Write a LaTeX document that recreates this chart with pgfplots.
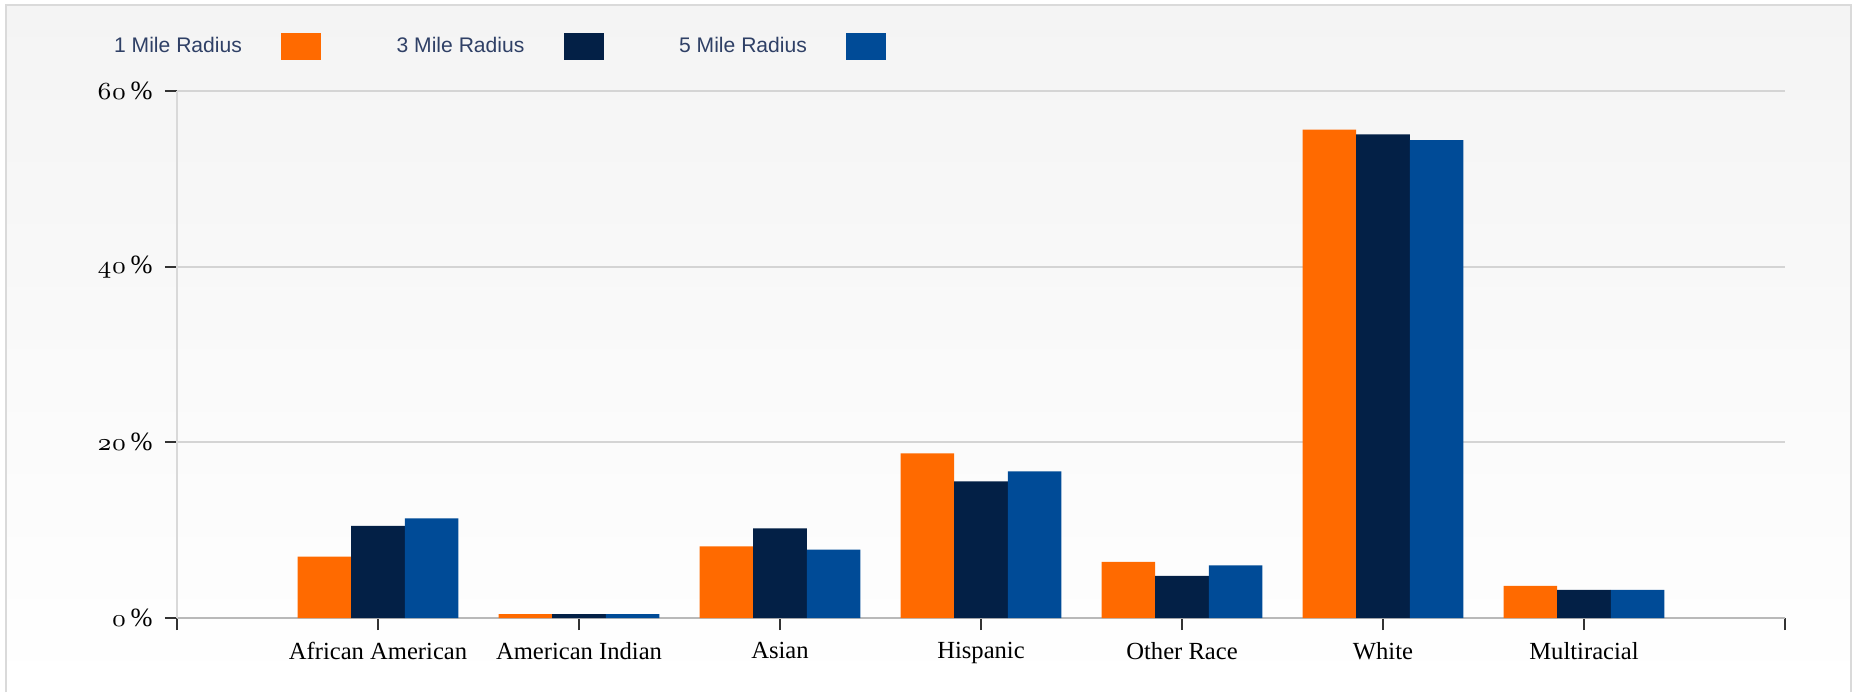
\documentclass[border=0pt]{standalone}
\usepackage{pgfplots}
\pgfplotsset{compat=1.18}
\usepackage{fontspec}
\setmainfont{Liberation Serif}
\newfontfamily\legfont{Liberation Sans}
\definecolor{cOne}{HTML}{FF6A00}
\definecolor{cThree}{HTML}{032046}
\definecolor{cFive}{HTML}{004B97}
\definecolor{legtext}{HTML}{2F4066}
\definecolor{bordergray}{HTML}{DADADA}
\definecolor{gridgray}{HTML}{D4D4D4}
\definecolor{bgtop}{HTML}{F4F4F4}
\begin{document}
\begin{tikzpicture}
\useasboundingbox (0,0) rectangle (18.54cm,6.92cm);
\shade[top color=bgtop, bottom color=white] (0.063cm,0) rectangle (18.51cm,6.867cm);
\draw[bordergray, line width=0.6pt] (0.063cm,0) -- (0.063cm,6.867cm) -- (18.51cm,6.867cm) -- (18.51cm,0);
\begin{axis}[
  at={(1.77cm,0.74cm)}, anchor=south west,
  scale only axis,
  width=16.08cm, height=5.27cm,
  xmin=0, xmax=8, ymin=0, ymax=60,
  enlargelimits=false,
  axis lines*=left,
  tick align=outside,
  major tick length=0.12cm,
  tick style={black!80, line width=0.5pt},
  x axis line style={gray!55, line width=0.6pt},
  y axis line style={gray!30, line width=0.6pt},
  ymajorgrids, grid style={gridgray, line width=0.5pt},
  xtick={0,1,2,3,4,5,6,7,8},
  xticklabels={,African American,American Indian,Asian,Hispanic,Other Race,White,Multiracial,},
  ytick={0,20,40,60},
  yticklabels={{$\mathnormal{0}$\,\%},{$\mathnormal{20}$\,\%},{$\mathnormal{40}$\,\%},{$\mathnormal{60}$\,\%}},
  xticklabel style={font=\fontsize{7}{8}\selectfont, text=black},
  yticklabel style={font=\fontsize{7.5}{9}\selectfont, text=black},
  ybar, bar width=0.2667,
  legend image code/.code={},
  legend columns=3,
  legend style={draw=none, fill=none, at={(-0.0395,1.0873)}, anchor=west,
    inner sep=0pt, column sep=0pt, font=\legfont\fontsize{6}{7}\selectfont, text=legtext,
    nodes={inner sep=0pt}},
]
\addplot[fill=cOne, draw=none, bar shift=-0.2667] coordinates {
  (1,7.0) (2,0.45) (3,8.15) (4,18.75) (5,6.4) (6,55.6) (7,3.65)};
\addlegendentry{\makebox[1.30cm][l]{1 Mile Radius}\rule{0.37cm}{0pt}\textcolor{cOne}{\rule[-0.073cm]{0.40cm}{0.27cm}}\rule{0.755cm}{0pt}}
\addplot[fill=cThree, draw=none, bar shift=0] coordinates {
  (1,10.5) (2,0.45) (3,10.2) (4,15.55) (5,4.8) (6,55.05) (7,3.2)};
\addlegendentry{\makebox[1.30cm][l]{3 Mile Radius}\rule{0.37cm}{0pt}\textcolor{cThree}{\rule[-0.073cm]{0.40cm}{0.27cm}}\rule{0.755cm}{0pt}}
\addplot[fill=cFive, draw=none, bar shift=0.2667] coordinates {
  (1,11.35) (2,0.45) (3,7.8) (4,16.7) (5,6.0) (6,54.4) (7,3.2)};
\addlegendentry{\makebox[1.30cm][l]{5 Mile Radius}\rule{0.37cm}{0pt}\textcolor{cFive}{\rule[-0.073cm]{0.40cm}{0.27cm}}}
\end{axis}
\end{tikzpicture}
\end{document}
